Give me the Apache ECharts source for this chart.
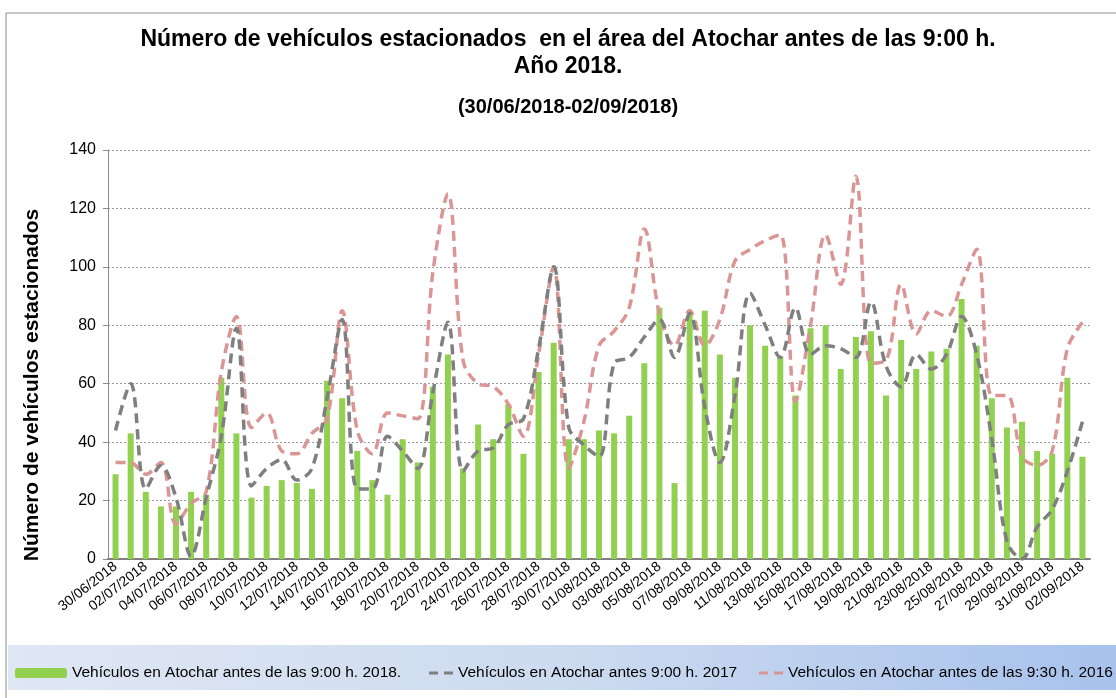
<!DOCTYPE html>
<html>
<head>
<meta charset="utf-8">
<script src="https://cdn.jsdelivr.net/npm/echarts@6/dist/echarts.min.js"></script>
<style>
  html, body { margin: 0; padding: 0; background: #fff; }
  #main { width: 1116px; height: 698px; }
</style>
</head>
<body>
<div id="main"></div>
<script>
// fechas 30/06/2018 - 02/09/2018
var fechas = [
    '30/06/2018',
    '01/07/2018', '02/07/2018', '03/07/2018', '04/07/2018', '05/07/2018', '06/07/2018', '07/07/2018', '08/07/2018',
    '09/07/2018', '10/07/2018', '11/07/2018', '12/07/2018', '13/07/2018', '14/07/2018', '15/07/2018', '16/07/2018',
    '17/07/2018', '18/07/2018', '19/07/2018', '20/07/2018', '21/07/2018', '22/07/2018', '23/07/2018', '24/07/2018',
    '25/07/2018', '26/07/2018', '27/07/2018', '28/07/2018', '29/07/2018', '30/07/2018', '31/07/2018',
    '01/08/2018', '02/08/2018', '03/08/2018', '04/08/2018', '05/08/2018', '06/08/2018', '07/08/2018', '08/08/2018',
    '09/08/2018', '10/08/2018', '11/08/2018', '12/08/2018', '13/08/2018', '14/08/2018', '15/08/2018', '16/08/2018',
    '17/08/2018', '18/08/2018', '19/08/2018', '20/08/2018', '21/08/2018', '22/08/2018', '23/08/2018', '24/08/2018',
    '25/08/2018', '26/08/2018', '27/08/2018', '28/08/2018', '29/08/2018', '30/08/2018', '31/08/2018',
    '01/09/2018', '02/09/2018'
];

// barras 2018
var datos2018 = [29, 43, 23, 18, 18, 23, 22, 62, 43, 21,
    25, 27, 26, 24, 61, 55, 37, 27, 22, 41,
    33, 59, 70, 31, 46, 41, 53, 36, 64, 74,
    41, 41, 44, 43, 49, 67, 86, 26, 84, 85,
    70, 62, 80, 73, 69, 56, 79, 80, 65, 76,
    78, 56, 75, 65, 71, 72, 89, 73, 55, 45,
    47, 37, 36, 62, 35];

// linea gris 2017
var datos2017 = [44, 60, 24, 32, 21, 1, 21, 42, 79, 25,
    31, 34, 27, 31, 55, 82, 24, 24, 42, 37,
    31, 57, 81, 30, 37, 38, 46, 48, 72, 100,
    45, 39, 35, 67, 69, 76, 82, 69, 84, 52,
    33, 56, 91, 80, 69, 86, 70, 73, 72, 69,
    88, 66, 59, 70, 65, 70, 83, 70, 41, 6,
    0, 11, 17, 30, 47];

// linea rosa 2016
var datos2016 = [33, 33, 29, 33, 12, 19, 23, 64, 83, 45,
    50, 37, 36, 43, 48, 85, 44, 36, 50, 49,
    48, 98, 125, 68, 60, 59, 53, 42, 70, 100,
    31, 47, 73, 78, 86, 113, 84, 73, 85, 73,
    82, 102, 106, 109, 111, 54, 80, 111, 94, 131,
    67, 68, 94, 77, 85, 83, 94, 106, 56, 56,
    35, 32, 37, 72, 81];

var nombre2018 = 'Vehículos en Atochar antes de las 9:00 h. 2018.';
var nombre2017 = 'Vehículos en Atochar antes 9:00 h. 2017';
var nombre2016 = 'Vehículos en Atochar antes de las 9:30 h. 2016';

var fuente = "'Liberation Sans', Arial, sans-serif";

// icono de leyenda: dos guiones
var iconoGuiones = 'path://M0,0H9V3H0Z M15,0H24V3H15Z';

var myChart = echarts.init(document.getElementById('main'));

var leyendaTexto = {color: '#000', fontSize: 15.5, fontFamily: fuente};

myChart.setOption({
    backgroundColor: '#fff',
    animation: false,
    title: [{
        text: 'Número de vehículos estacionados  en el área del Atochar antes de las 9:00 h.\nAño 2018.',
        left: 563,
        textAlign: 'center',
        top: 21,
        textStyle: {fontFamily: fuente, fontWeight: 'bold', fontSize: 23, lineHeight: 27, color: '#000'}
    }, {
        text: '(30/06/2018-02/09/2018)',
        left: 563,
        textAlign: 'center',
        top: 92,
        textStyle: {fontFamily: fuente, fontWeight: 'bold', fontSize: 20, color: '#000'}
    }],
    graphic: [{
        type: 'rect',
        shape: {x: 6, y: 13, width: 1120, height: 700},
        style: {fill: 'none', stroke: '#8c8c8c', lineWidth: 1},
        silent: true,
        z: -10
    }, {
        type: 'rect',
        shape: {x: 8, y: 645, width: 1108, height: 45},
        style: {
            fill: new echarts.graphic.LinearGradient(0, 0, 1, 0, [
                {offset: 0, color: '#dfe7f3'},
                {offset: 0.5, color: '#cddbf0'},
                {offset: 1, color: '#a8c2ec'}
            ])
        },
        silent: true,
        z: -5
    }, {
        type: 'text',
        x: 32,
        y: 385,
        rotation: Math.PI / 2,
        style: {
            text: 'Número de vehículos estacionados',
            fontFamily: fuente,
            fontWeight: 'bold',
            fontSize: 21,
            fill: '#000',
            align: 'center',
            verticalAlign: 'middle'
        }
    }],
    legend: [{
        data: [nombre2018],
        left: 10, top: 660,
        itemWidth: 52, itemHeight: 10, itemGap: 4,
        textStyle: leyendaTexto
    }, {
        data: [{name: nombre2017, icon: iconoGuiones}],
        left: 424, top: 660,
        itemWidth: 24, itemHeight: 3,
        textStyle: leyendaTexto
    }, {
        data: [{name: nombre2016, icon: iconoGuiones}],
        left: 754, top: 660,
        itemWidth: 24, itemHeight: 3,
        textStyle: leyendaTexto
    }],
    grid: {left: 108, right: 26, top: 150, bottom: 139},
    xAxis: {
        type: 'category',
        data: fechas,
        boundaryGap: true,
        axisLine: {lineStyle: {color: '#7f7f7f', width: 2}},
        axisTick: {show: false},
        axisLabel: {
            interval: 1,
            rotate: 38,
            color: '#000',
            fontSize: 14,
            fontFamily: fuente,
            margin: 6
        }
    },
    yAxis: {
        type: 'value',
        min: 0,
        max: 140,
        interval: 20,
        axisLine: {show: true, lineStyle: {color: '#8c8c8c', width: 1}},
        axisTick: {show: true, length: 5, lineStyle: {color: '#8c8c8c'}},
        axisLabel: {color: '#000', fontSize: 16, fontFamily: fuente, margin: 12},
        splitLine: {lineStyle: {color: '#9a9a9a', type: [2, 2], width: 1}}
    },
    series: [{
        name: nombre2018,
        type: 'bar',
        data: datos2018,
        barWidth: 6,
        itemStyle: {color: '#92d050'},
        z: 2
    }, {
        name: nombre2017,
        type: 'line',
        data: datos2017,
        smooth: 0.35,
        symbol: 'none',
        lineStyle: {color: '#7f7f7f', width: 3.5, type: [10, 6]},
        itemStyle: {color: '#7f7f7f'},
        z: 4
    }, {
        name: nombre2016,
        type: 'line',
        data: datos2016,
        smooth: 0.35,
        symbol: 'none',
        lineStyle: {color: '#d99694', width: 3.5, type: [10, 6]},
        itemStyle: {color: '#d99694'},
        z: 3
    }]
});
</script>
</body>
</html>
